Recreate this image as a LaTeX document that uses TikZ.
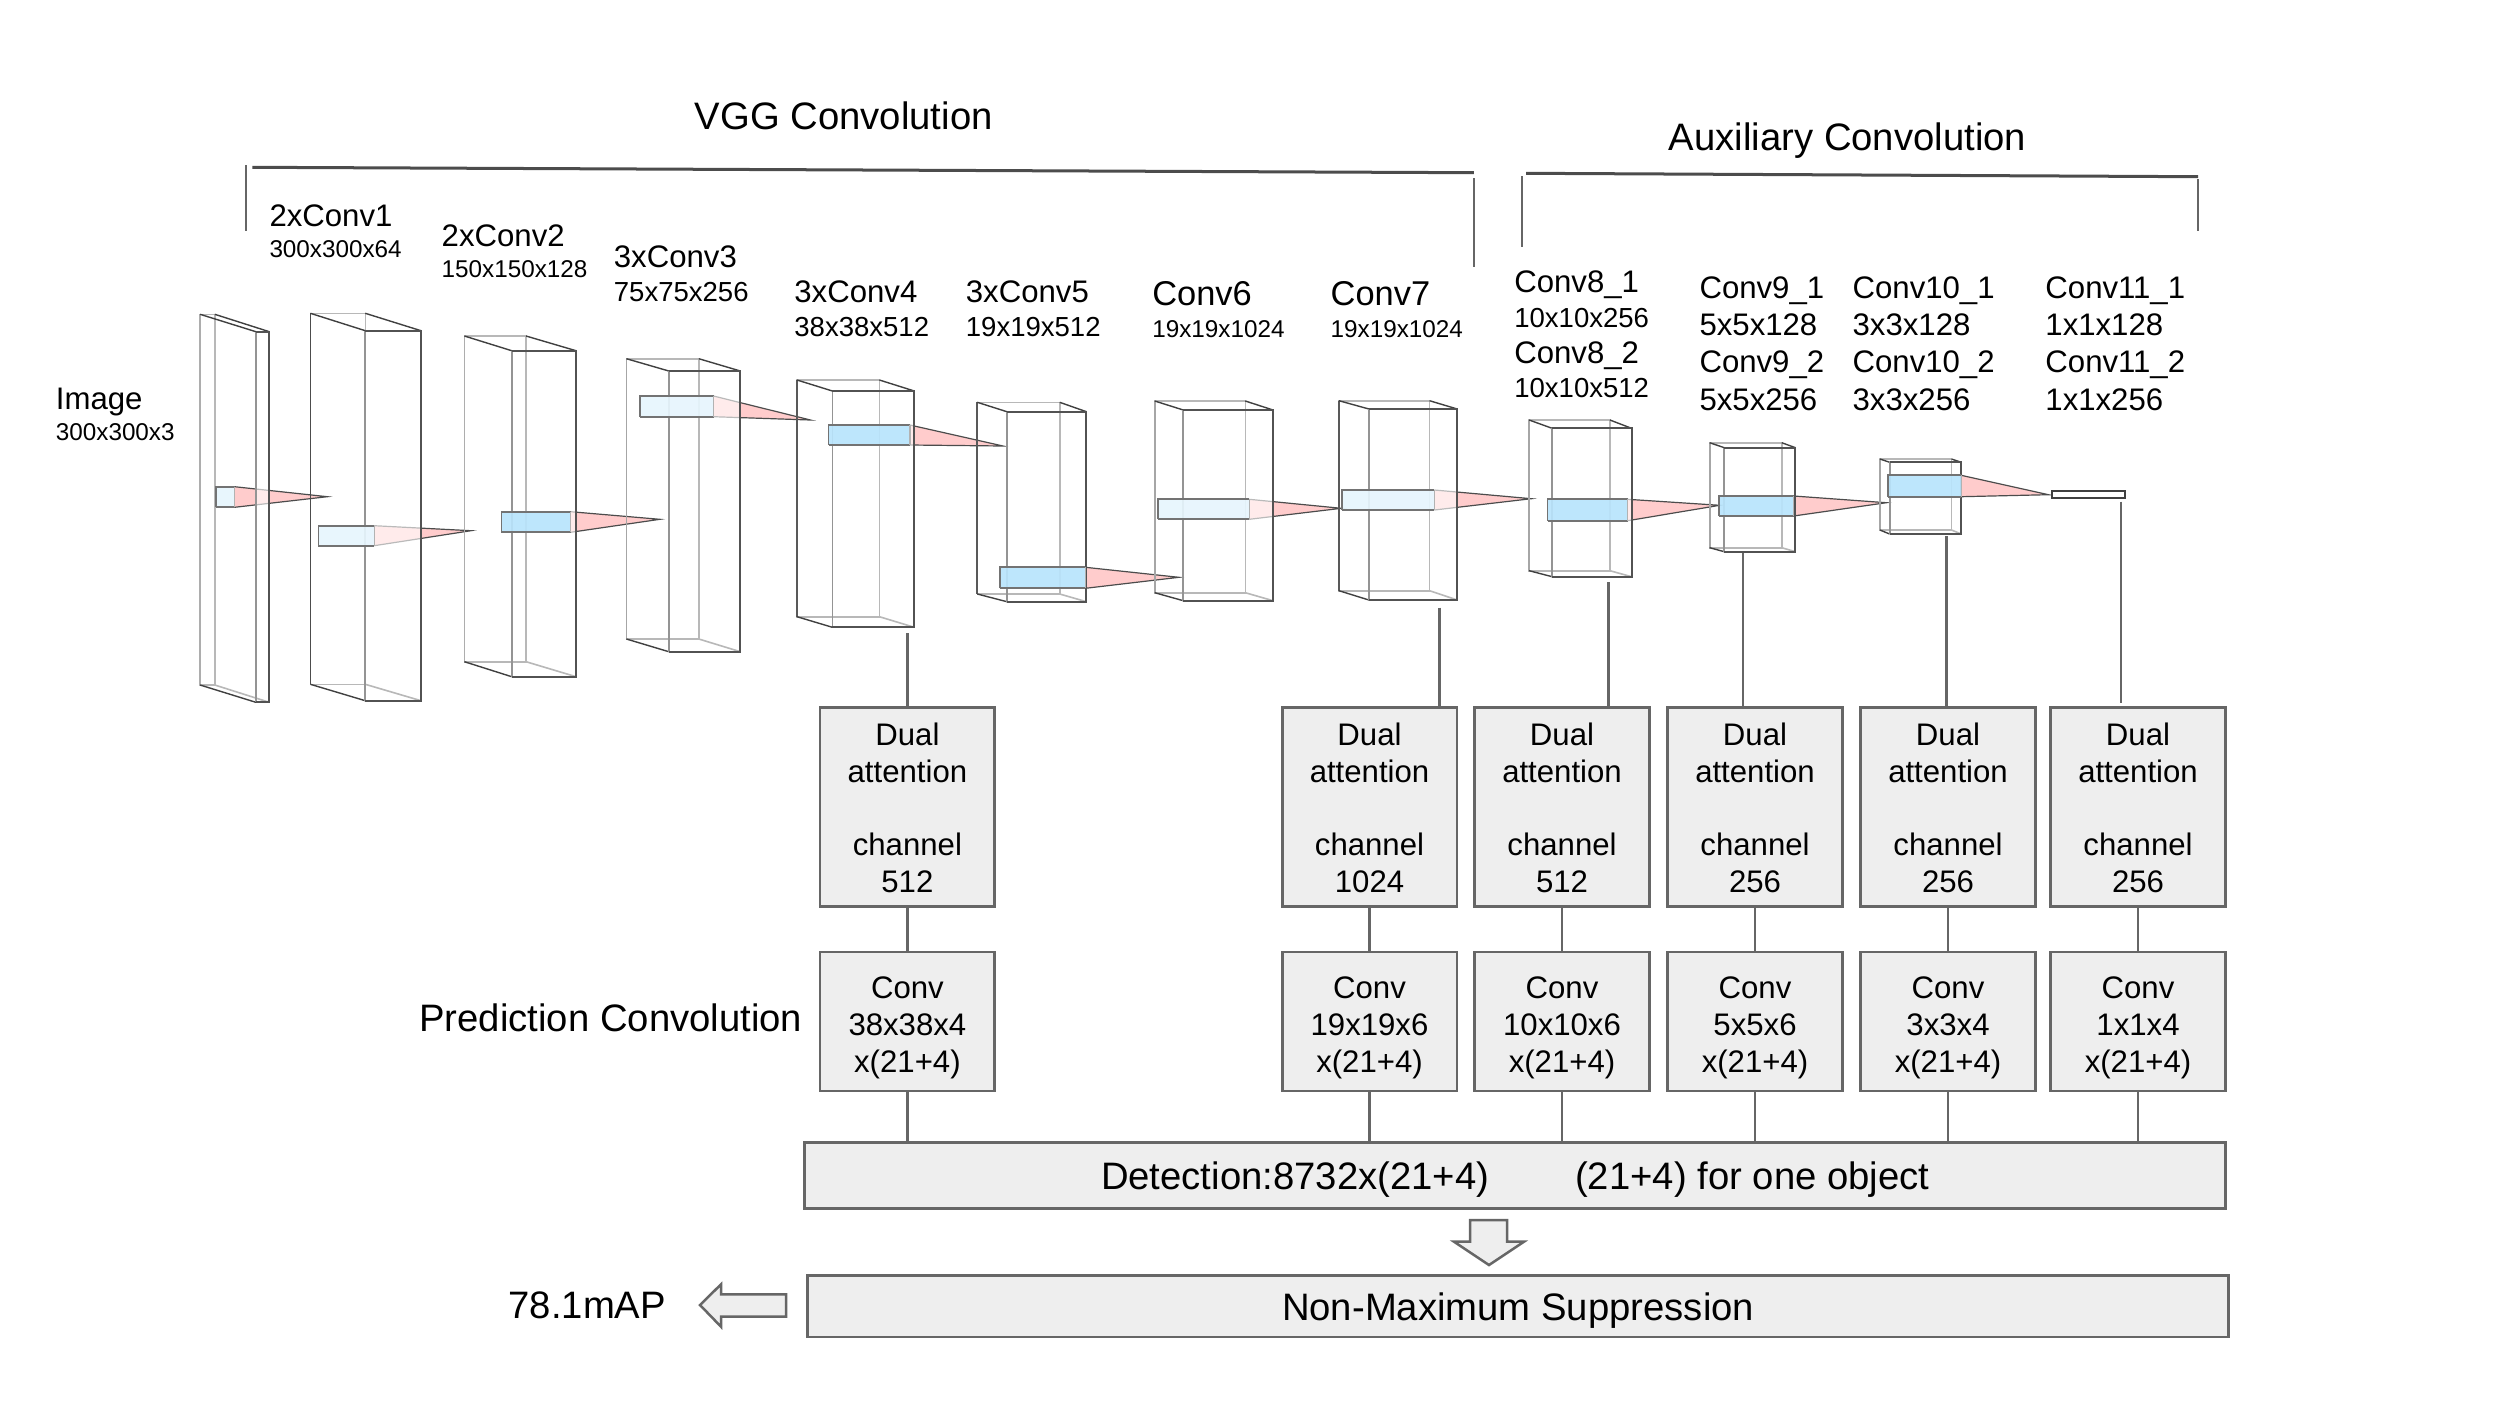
\documentclass[tikz,border=0pt]{standalone}
\usepackage{fontspec}
\setmainfont{Liberation Sans}
\usetikzlibrary{positioning,calc}
\definecolor{BoxFill}{HTML}{EEEEEE}
\definecolor{BoxLine}{HTML}{666666}
\definecolor{SlabDeep}{HTML}{B8E4FC}
\definecolor{SlabPale}{HTML}{E6F5FD}
\definecolor{ConePink}{HTML}{FFCCCC}
\newcommand{\fontB}{\fontsize{10.88}{13}\selectfont}
\newcommand{\fontC}{\fontsize{9.79}{12}\selectfont}
\newcommand{\fontM}{\fontsize{8.86}{10.44}\selectfont}
\newcommand{\fontD}{\fontsize{7.83}{9.4}\selectfont}
\newcommand{\fontS}{\fontsize{6.9}{8.3}\selectfont}
\tikzset{
  block/.style={draw=BoxLine,fill=BoxFill,line width=0.026cm,inner sep=0pt,outer sep=0pt,align=center,font=\fontM,minimum width=1.745cm},
  wide/.style={draw=BoxLine,fill=BoxFill,line width=0.026cm,inner sep=0pt,outer sep=0pt,align=center,font=\fontB,minimum width=14.2cm},
  link/.style={draw=BoxLine,line width=0.025cm},
  bracket/.style={draw=black!70,line width=0.03cm},
  bracketside/.style={draw=black!60,line width=0.016cm},
  blockarrow/.style={draw=BoxLine,fill=BoxFill,line width=0.025cm},
  wireback/.style={draw=black!28,line width=0.016cm},
  wireleft/.style={draw=black!42,line width=0.018cm},
  wirefront/.style={draw=black!68,line width=0.02cm},
  wiredepth/.style={draw=black!75,line width=0.014cm},
  label/.style={inner sep=0pt,anchor=base west,xshift=-0.008cm,yshift=-0.012cm},
  lblT/.style={label,font=\fontB},
  lblC/.style={label,font=\fontC},
  lblM/.style={label,font=\fontM},
  lblD/.style={label,font=\fontD},
  lblS/.style={label,font=\fontS},
}
% slabs with their cones: left/right/top/bottom/tipx/tipy/colour
\newcommand{\kernellist}{
  215.7/234.5/486.7/507.3/327.3/496.7/SlabPale,
  318.4/374.2/525.7/545.7/471/530.7/SlabPale,
  501.4/570.6/511.7/532.3/659.9/519.3/SlabDeep,
  639.8/713.5/396/416.7/810.4/420/SlabPale,
  828.5/909.9/425/445/1003/446/SlabDeep,
  999.6/1085.4/567.3/588.3/1178.9/577.3/SlabDeep,
  1158.1/1249.2/499.3/519.3/1341.3/508.3/SlabPale,
  1342.3/1434.4/490/510/1531.3/498.7/SlabPale,
  1547.5/1627.8/499.3/520.7/1719.7/505.3/SlabDeep,
  1718.8/1793.6/496/516/1886.3/502.7/SlabDeep,
  1887.7/1961.2/475.3/496.7/2048.4/494.7/SlabDeep}
\begin{document}
\begin{tikzpicture}[x=0.01cm,y=-0.01cm]
  \useasboundingbox (0,0) rectangle (2500,1406);
  % Cones
  \foreach \xa/\xb/\ya/\yb/\tipx/\tipy/\col in \kernellist {
      \fill[ConePink] (\xb,\ya) -- (\tipx,\tipy) -- (\xb,\yb) -- cycle;
      \draw[black!70,line width=0.012cm] (\xb,\ya) -- (\tipx,\tipy) -- (\xb,\yb);
    }
  % Feature maps
  \foreach \bl/\brr/\bt/\bbm/\fl/\frr/\ft/\fbm/\edge in {
      200.1/214.8/314.3/685/255.9/269.3/331.7/702.3/32,
      310.4/365.3/313.3/684.3/365.3/421/330.7/700.7/70,
      464.4/526/336/661.7/511.7/576/350.7/676.7/32,
      626.4/698.8/358.7/639/668.8/740.3/371/651.7/35,
      797/879.4/380/616.7/832.4/914.3/391/627.3/65,
      977.3/1059.7/402.3/594/1006.9/1086.4/411.7/601.7/65,
      1154.7/1245.3/401/592.7/1183.3/1273/410/600.7/35,
      1338.9/1429.5/400.7/590.7/1368.9/1457.2/409/600/65,
      1529.1/1609.9/420/570.7/1552.1/1631.5/428.3/576.7/35,
      1709.6/1781.7/442.7/547.7/1724.3/1795.4/447.7/551.7/35,
      1879.9/1951.5/459/530/1889.6/1961.2/462.3/534/35} {
      \fill[white,opacity=0.62] (\fl,\ft) rectangle (\frr,\fbm);
      \draw[wireback] (\bl,\bt) rectangle (\brr,\bbm);
      \draw[draw=black!\edge,line width=0.018cm] (\bl,\bt) -- (\bl,\bbm);
      \draw[wiredepth] (\bl,\bt) -- (\fl,\ft) (\brr,\bt) -- (\frr,\ft);
      \draw[wiredepth] (\bl,\bbm) -- (\fl,\fbm);
      \draw[wireback] (\brr,\bbm) -- (\frr,\fbm);
      \draw[wireleft] (\fl,\ft) -- (\fl,\fbm);
      \draw[wirefront] (\fl,\ft) -- (\frr,\ft) -- (\frr,\fbm) -- (\fl,\fbm);
    }
  \draw[black!75,fill=white,line width=0.02cm] (2052,491.3) rectangle (2125,498.3);
  % Slabs
  \foreach \xa/\xb/\ya/\yb/\tipx/\tipy/\col in \kernellist {
      \fill[\col,fill opacity=0.92] (\xa,\ya) rectangle (\xb,\yb);
      \draw[black!55,line width=0.018cm] (\xa,\yb) -- (\xa,\ya) -- (\xb,\ya) (\xa,\yb) -- (\xb,\yb);
      \draw[black!30,line width=0.012cm] (\xb,\ya) -- (\xb,\yb);
    }
  % Brackets
  \draw[bracket] (252.4,167.3) -- (1473.9,172.7);
  \draw[bracketside] (246,165) -- (246,231);
  \draw[bracketside] (1473.9,178.3) -- (1473.9,266.7);
  \draw[bracket] (1526,173.3) -- (2198,176.7);
  \draw[bracketside] (1522,176) -- (1522,247.3);
  \draw[bracketside] (2198,179.3) -- (2198,230.7);
  % Labels
  \node[lblT] (vggtitle) at (695,128.7) {VGG Convolution};
  \node[lblT] (auxtitle) at (1669,149) {Auxiliary Convolution};
  \node[lblT] (predtitle) at (419.5,1030.7) {Prediction Convolution};
  \node[lblT] (maptext) at (508.7,1317.3) {78.1mAP};
  \foreach \nm/\stl/\x/\y/\txt in {
      imga/lblM/56/408.3/Image, imgb/lblS/56/439.3/300x300x3,
      ca/lblM/269.6/225.7/2xConv1, cb/lblS/269.6/256.7/300x300x64,
      da/lblM/441.8/245.7/2xConv2, db/lblS/441.8/276.7/150x150x128,
      ea/lblM/614/266.7/3xConv3, eb/lblD/614/300.7/75x75x256,
      fa/lblM/794.5/301.7/3xConv4, fb/lblD/794.5/335.7/38x38x512,
      ga/lblM/966/301.7/3xConv5, gb/lblD/966/335.7/19x19x512,
      ha/lblC/1152.4/304.3/Conv6, hb/lblS/1152.4/336.7/19x19x1024,
      ia/lblC/1330.8/304.3/Conv7, ib/lblS/1330.8/336.7/19x19x1024,
      ja/lblM/1514.4/291.7/Conv8\_1, jb/lblD/1514.4/326/10x10x256,
      jc/lblM/1514.4/362.7/Conv8\_2, jd/lblD/1514.4/396.7/10x10x512,
      ka/lblM/1699.6/297.3/Conv9\_1, kb/lblM/1699.6/334.3/5x5x128,
      kc/lblM/1699.6/371.7/Conv9\_2, kd/lblM/1699.6/409.3/5x5x256,
      la/lblM/1852.7/297.3/Conv10\_1, lb/lblM/1852.7/334.3/3x3x128,
      lc/lblM/1852.7/371.7/Conv10\_2, ld/lblM/1852.7/409.3/3x3x256,
      ma/lblM/2045.5/297.3/Conv11\_1, mb/lblM/2045.5/334.3/1x1x128,
      mc/lblM/2045.5/371.7/Conv11\_2, md/lblM/2045.5/409.3/1x1x256} {
      \node[\stl] (\nm) at (\x,\y) {\txt};
    }
  % Detection heads
  \node[wide,minimum height=0.66cm] (det) at (1515.2,1175.7) {\rule{0pt}{0.36cm}Detection:8732x(21+4)\hspace{0.86cm}(21+4) for one object};
  \node[wide,minimum height=0.61cm] (nms) at (1518.1,1306.3) {\rule{0pt}{0.36cm}Non-Maximum Suppression};
  \foreach \id/\x/\ch/\sz/\footx/\footy in {
      4/907.4/512/38x38x4/907.4/633,
      7/1369.5/1024/19x19x6/1439.7/607.7,
      8/1562/512/10x10x6/1608.6/582,
      9/1755/256/5x5x6/1743/553.3,
      10/1948/256/3x3x4/1946.5/536,
      11/2138/256/1x1x4/2121/501.7} {
      \node[block,minimum height=1.99cm] (dual\id) at (\x,807) {\rule{0pt}{0.245cm}Dual\\attention\\[10.44pt]channel\\\ch};
      \node[block,minimum height=1.39cm] (conv\id) at (\x,1021.6) {\rule{0pt}{0.34cm}Conv\\\sz\\x(21+4)};
      \coordinate (foot\id) at (\footx,\footy);
      \draw[link] (dual\id) -- (conv\id);
      \draw[link] (conv\id.south) -- (conv\id.south |- det.north);
    }
  \foreach \id in {4,7,8,9,10} {
      \draw[link] (foot\id) -- (foot\id |- dual\id.north);
    }
  \draw[link,shorten >=0.04cm] (foot11) -- (foot11 |- dual11.north);
  % Block arrows
  \draw[blockarrow] (1470,1220) -- (1507,1220) -- (1507,1241.7) -- (1524,1241.7) -- (1489,1265) -- (1454,1241.7) -- (1470,1241.7) -- cycle;
  \draw[blockarrow] (786,1294.3) -- (721,1294.3) -- (721,1284.3) -- (700,1305) -- (721,1326.7) -- (721,1316.7) -- (786,1316.7) -- cycle;
\end{tikzpicture}
\end{document}
